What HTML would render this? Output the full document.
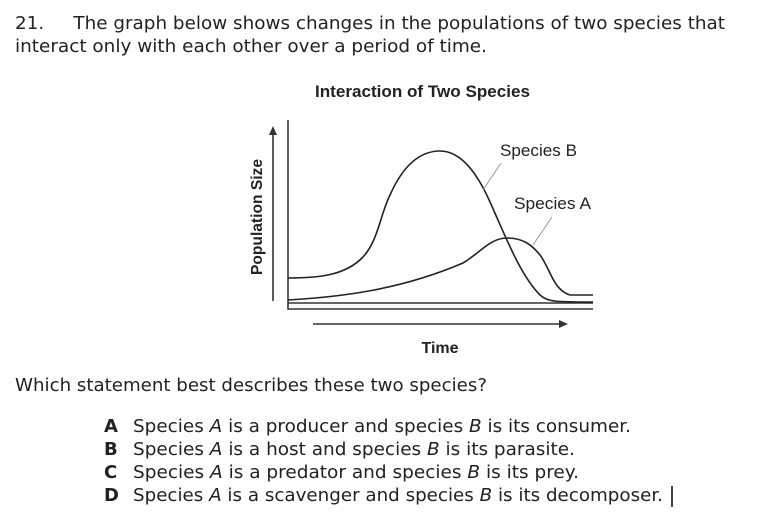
<!DOCTYPE html>
<html><head><meta charset="utf-8"><style>
html,body{margin:0;padding:0;background:#fff;width:768px;height:528px;overflow:hidden}
svg{display:block}
.q{font-family:"DejaVu Sans","Liberation Sans",sans-serif;font-size:18px;fill:#222}
.b{font-weight:bold}
.ar{font-family:"Liberation Sans",sans-serif;fill:#222}
</style></head><body>
<svg width="768" height="528" viewBox="0 0 768 528" xmlns="http://www.w3.org/2000/svg">
<text class="q" x="15" y="29" textLength="710" lengthAdjust="spacingAndGlyphs" xml:space="preserve">21.     The graph below shows changes in the populations of two species that</text>
<text class="q" x="15" y="52" textLength="472" lengthAdjust="spacingAndGlyphs">interact only with each other over a period of time.</text>
<text class="ar" x="315" y="97" font-size="17" font-weight="bold" textLength="215" lengthAdjust="spacingAndGlyphs">Interaction of Two Species</text>
<g stroke="#333" fill="none" stroke-width="1.6">
<path d="M288 120 V309 H593"/>
<path d="M288 303 H593"/>
<path d="M273 301 V133"/>
<path d="M313 324 H562"/>
</g>
<path d="M273 126 L269 135 L277 135 Z" fill="#333"/>
<path d="M568 324 L559 320 L559 328 Z" fill="#333"/>
<text class="ar" x="262" y="217" font-size="15.5" font-weight="bold" text-anchor="middle" transform="rotate(-90 262 217)" textLength="116" lengthAdjust="spacingAndGlyphs">Population Size</text>
<text class="ar" x="440" y="353" font-size="16" font-weight="bold" text-anchor="middle">Time</text>
<g stroke="#222" fill="none" stroke-width="1.6">
<path d="M288 278 C320 278 345 275 362 258 C378 242 380 215 390 195 C402 168 418 151 440 151 C462 151 478 175 490 202 C505 235 520 275 540 295 C548 302 555 302 593 302"/>
<path d="M288 300 C340 297 400 290 463 263 C480 253 490 238 507 238 C523 238 532 245 540 255 C550 268 553 290 570 295 L593 295"/>
</g>
<g stroke="#999" stroke-width="1">
<path d="M483 190 L501 163"/>
<path d="M533 245 L552 217"/>
</g>
<text class="ar" x="500" y="156" font-size="17" textLength="77" lengthAdjust="spacingAndGlyphs">Species B</text>
<text class="ar" x="514" y="209" font-size="17" textLength="77" lengthAdjust="spacingAndGlyphs">Species A</text>
<text class="q" x="15" y="391" textLength="472" lengthAdjust="spacingAndGlyphs">Which statement best describes these two species?</text>
<text class="q b" x="104" y="432">A</text><text class="q" x="133" y="432" textLength="498" lengthAdjust="spacingAndGlyphs">Species <tspan font-style="italic">A</tspan> is a producer and species <tspan font-style="italic">B</tspan> is its consumer.</text>
<text class="q b" x="104" y="455">B</text><text class="q" x="133" y="455" textLength="442" lengthAdjust="spacingAndGlyphs">Species <tspan font-style="italic">A</tspan> is a host and species <tspan font-style="italic">B</tspan> is its parasite.</text>
<text class="q b" x="104" y="478">C</text><text class="q" x="133" y="478" textLength="446" lengthAdjust="spacingAndGlyphs">Species <tspan font-style="italic">A</tspan> is a predator and species <tspan font-style="italic">B</tspan> is its prey.</text>
<text class="q b" x="104" y="501">D</text><text class="q" x="133" y="501" textLength="530" lengthAdjust="spacingAndGlyphs">Species <tspan font-style="italic">A</tspan> is a scavenger and species <tspan font-style="italic">B</tspan> is its decomposer.</text>
<path d="M672 486 V507" stroke="#000" stroke-width="1.5"/>
</svg>
</body></html>
